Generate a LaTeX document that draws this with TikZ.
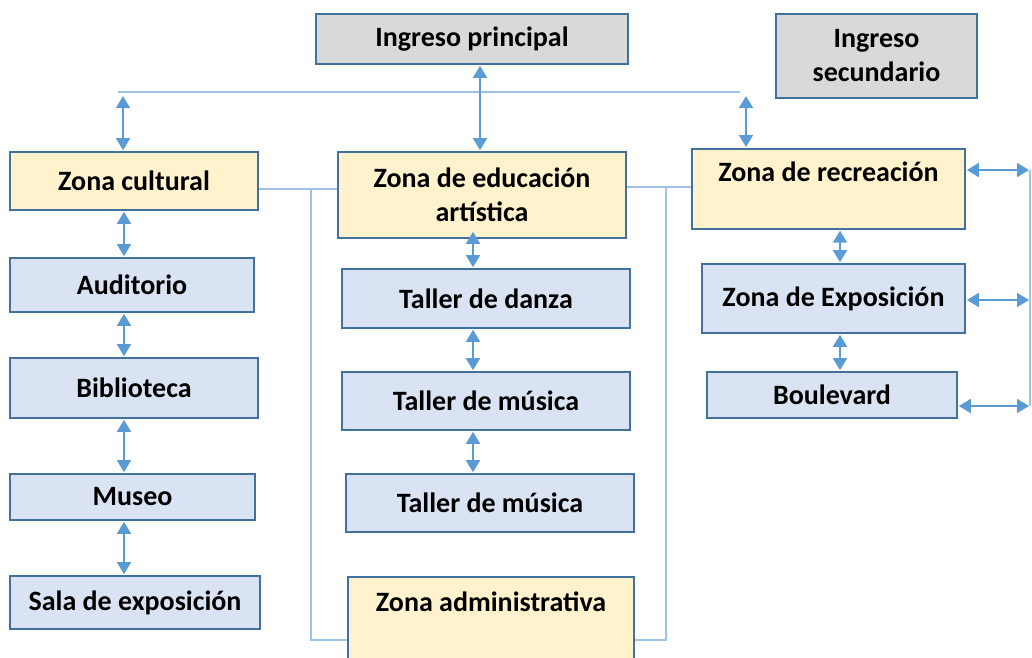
\documentclass[tikz,border=0pt]{standalone}
\usepackage{fontspec}
\setmainfont{Carlito}
\usetikzlibrary{arrows.meta}
\definecolor{bordc}{HTML}{41719C}
\definecolor{grayf}{HTML}{D9D9D9}
\definecolor{yelf}{HTML}{FFF2CC}
\definecolor{bluef}{HTML}{DAE3F3}
\definecolor{arrc}{HTML}{5B9BD5}
\definecolor{linec}{HTML}{9DC3E6}
\tikzset{
  box/.style={draw=bordc, line width=1.6pt, rectangle, inner sep=0pt, align=center,
    font=\fontsize{28}{34}\selectfont\bfseries},
  gbox/.style={box, fill=grayf},
  ybox/.style={box, fill=yelf},
  bbox/.style={box, fill=bluef},
  arr/.style={draw=arrc, line width=1.6pt, {Triangle[width=14pt,length=12pt]}-{Triangle[width=14pt,length=12pt]}, shorten <=1pt, shorten >=1pt},
  conn/.style={draw=linec, line width=1.8pt}
}
\begin{document}
\begin{tikzpicture}[x=1pt,y=-1pt]
\useasboundingbox (0,0) rectangle (1032,657);
% nodes
\node[gbox, minimum width=312, minimum height=50] (ip) at (472,39) {Ingreso principal};
\node[gbox, minimum width=201, minimum height=84] (is) at (876.5,56) {Ingreso\\secundario};
\node[ybox, minimum width=248, minimum height=58] (zc) at (134,181) {Zona cultural};
\node[ybox, minimum width=288, minimum height=86] (ze) at (482,195) {Zona de educación\\artística};
\node[ybox, anchor=north, minimum width=273, text height=33, text depth=47] (zr) at (828.5,148) {Zona de recreación};
\node[bbox, minimum width=244, minimum height=54] (aud) at (132,285) {Auditorio};
\node[bbox, minimum width=248, minimum height=60] (bib) at (134,388) {Biblioteca};
\node[bbox, minimum width=245, minimum height=46] (mus) at (132.5,497) {Museo};
\node[bbox, minimum width=250, minimum height=53] (sala) at (135,602.5) {Sala de exposición};
\node[bbox, minimum width=288, minimum height=59] (td) at (486,298.5) {Taller de danza};
\node[bbox, minimum width=288, minimum height=58] (tm1) at (486,401) {Taller de música};
\node[bbox, minimum width=288, minimum height=58] (tm2) at (490,503) {Taller de música};
\node[ybox, anchor=north, minimum width=286, text height=35, text depth=57] (za) at (491,576) {Zona administrativa};
\node[bbox, minimum width=263, minimum height=69] (zex) at (833.5,298.5) {Zona de Exposición};
\node[bbox, minimum width=250, minimum height=46] (boul) at (832,395) {Boulevard};
% coordinates
\coordinate (tl) at (118,92);
\coordinate (tr) at (740,92);
\coordinate (al) at (123,95);
\coordinate (ar) at (746,95);
\coordinate (cL) at (124,0);
\coordinate (cM) at (473,0);
\coordinate (cR) at (840,0);
\coordinate (jl) at (311,189);
\coordinate (jr) at (666,187);
\coordinate (bl) at (311,640);
\coordinate (br) at (666,640);
\coordinate (r1) at (1030,170);
\coordinate (r2) at (1030,300);
\coordinate (r3) at (1030,406);
% top connectors
\draw[conn] (tl) -- (tr);
\draw[arr] (ip.south -| 480,0) -- (ze.north -| 480,0);
\draw[arr] (al) -- (al |- zc.north);
\draw[arr] (ar) -- (ar |- zr.north);
% left column
\draw[arr] (cL |- zc.south) -- (cL |- aud.north);
\draw[arr] (cL |- aud.south) -- (cL |- bib.north);
\draw[arr] (cL |- bib.south) -- (cL |- mus.north);
\draw[arr] (cL |- mus.south) -- (cL |- sala.north);
% middle column
\draw[arr] ([yshift=8pt]cM |- ze.south) -- (cM |- td.north);
\draw[arr] (cM |- td.south) -- (cM |- tm1.north);
\draw[arr] (cM |- tm1.south) -- (cM |- tm2.north);
% right column
\draw[arr] (cR |- zr.south) -- (cR |- zex.north);
\draw[arr] (cR |- zex.south) -- (cR |- boul.north);
% side connectors
\draw[arr] (r1 -| zr.east) -- (r1);
\draw[arr] (r2 -| zex.east) -- (r2);
\draw[arr] (r3 -| boul.east) -- (r3);
\draw[conn, line width=1.2pt] (r1) -- (r3);
% tee connectors
\draw[conn] (jl -| zc.east) -- (jl -| ze.west);
\draw[conn] (jl) -- (bl) -- (bl -| za.west);
\draw[conn] (jr -| ze.east) -- (jr -| zr.west);
\draw[conn] (jr) -- (br) -- (br -| za.east);
\end{tikzpicture}
\end{document}
